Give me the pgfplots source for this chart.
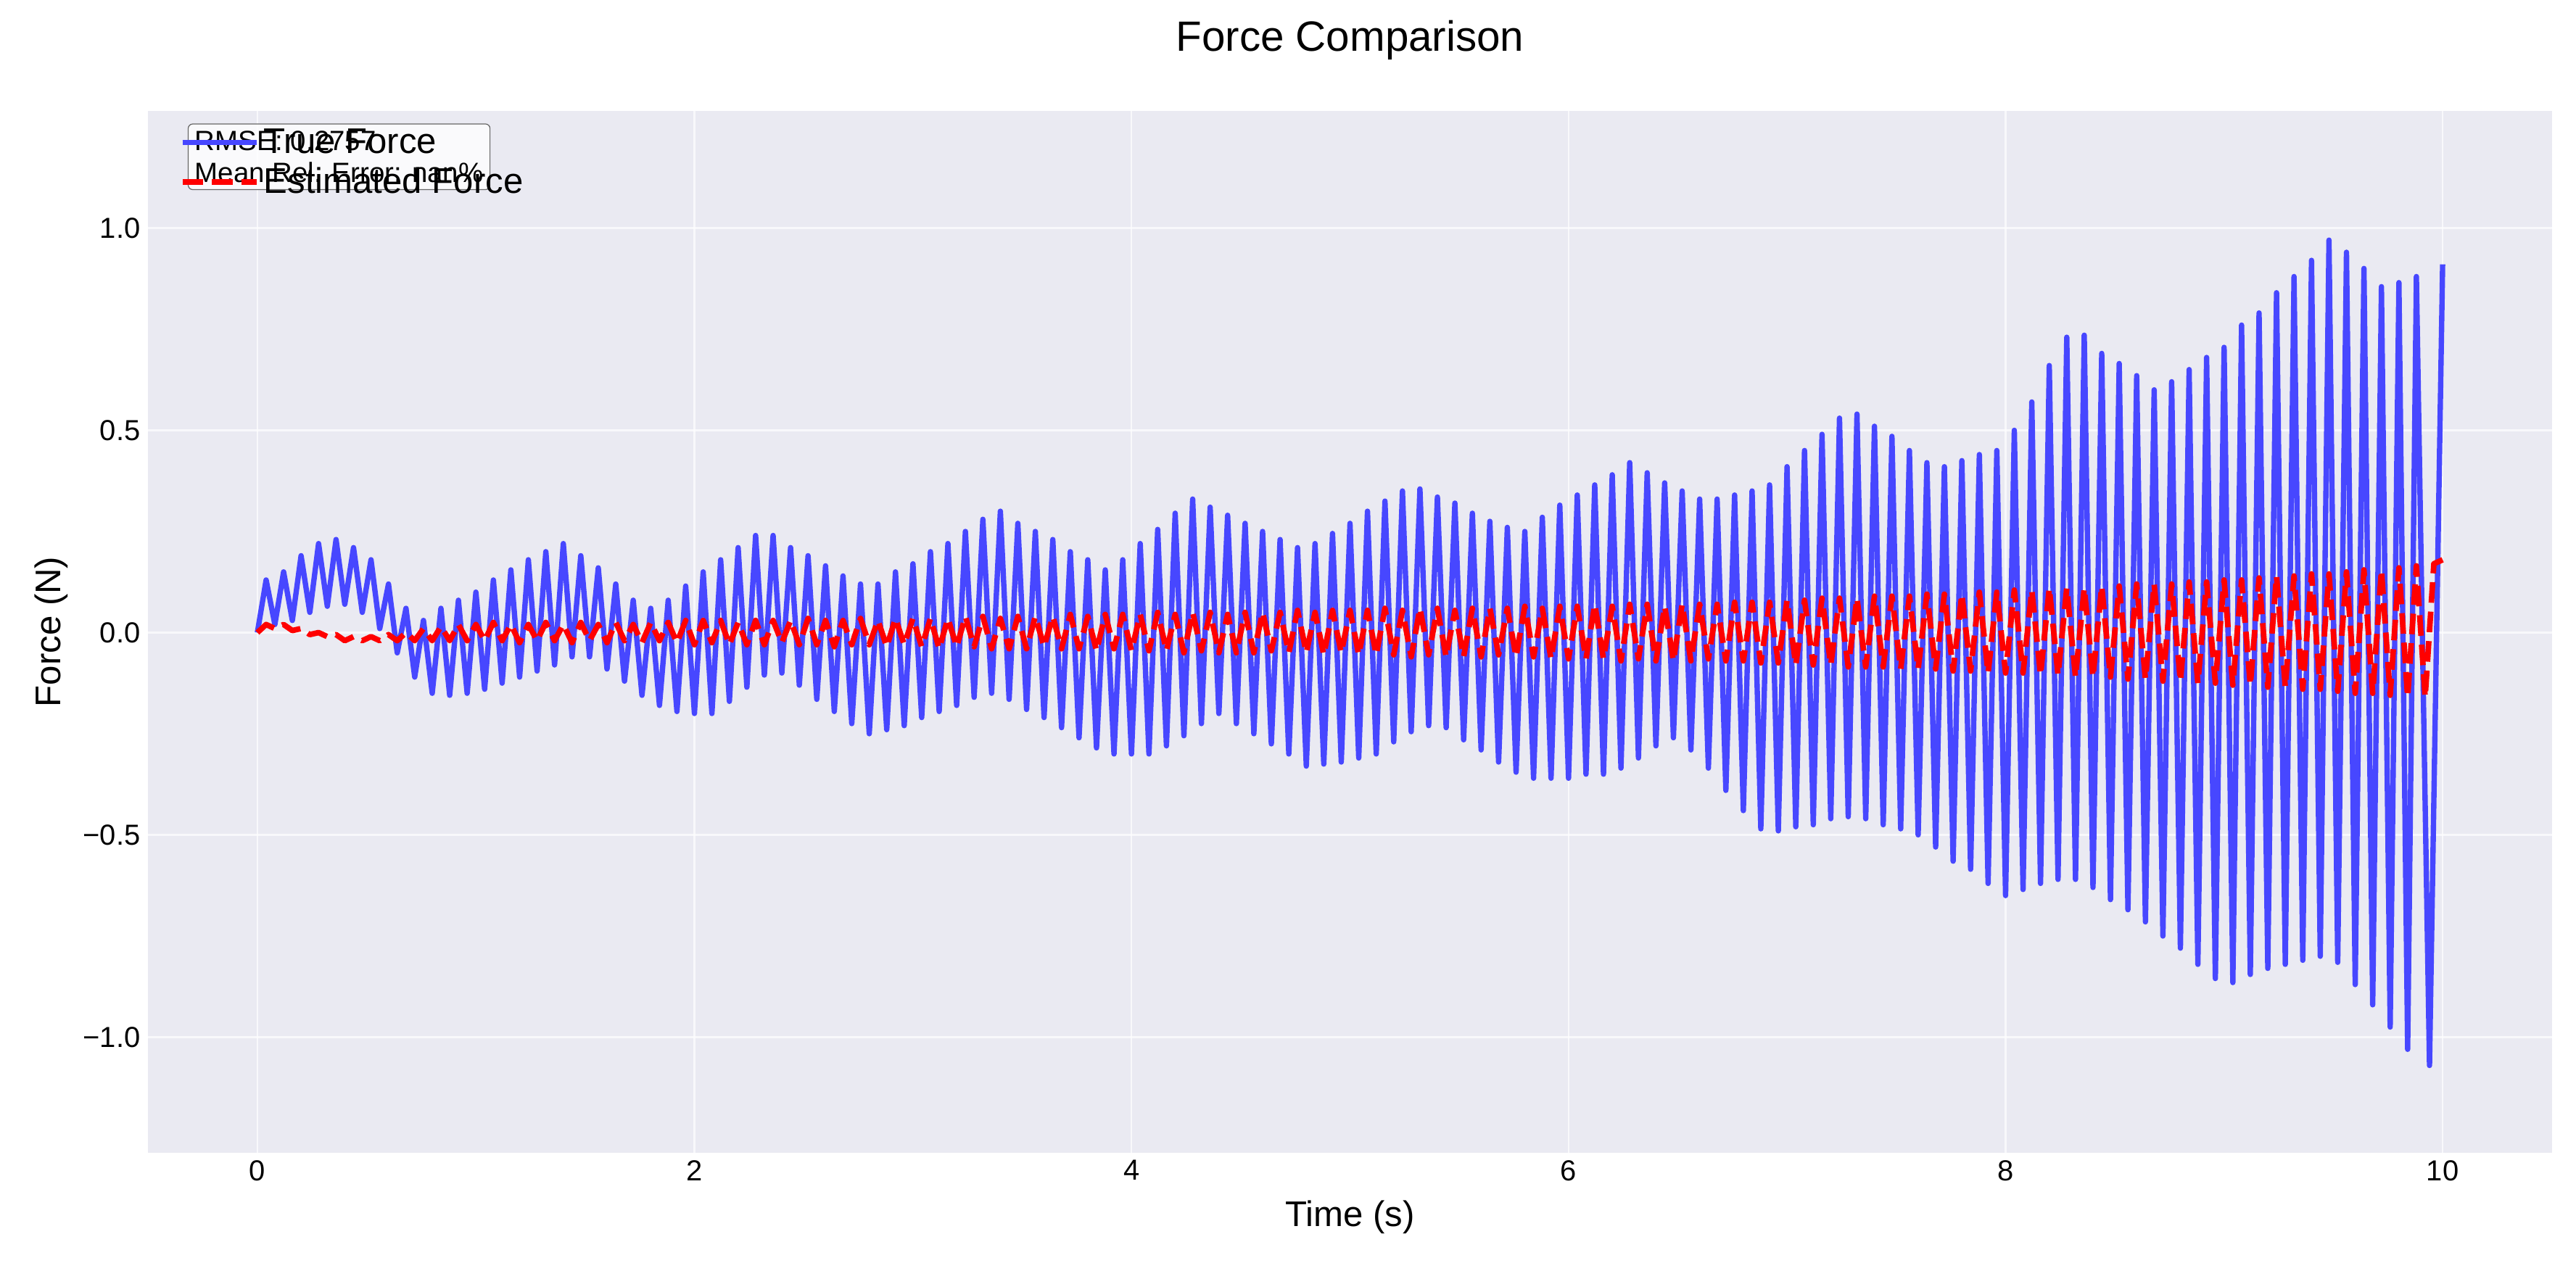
\documentclass[border=0pt]{standalone}
\usepackage{fontspec}
\setmainfont{Liberation Sans}
\usepackage{pgfplots}
\pgfplotsset{compat=1.18}
\definecolor{bgc}{HTML}{EAEAF2}
\definecolor{blu}{HTML}{4747FF}
\begin{document}
\begin{tikzpicture}
\begin{axis}[
  scale only axis, width=14.93in, height=6.47in,
  xmin=-0.5, xmax=10.5, ymin=-1.285, ymax=1.289,
  axis background/.style={fill=bgc},
  axis line style={draw=none},
  tick style={draw=none},
  grid=major, major grid style={white, line width=0.8pt, opacity=0.7},
  xtick={0,2,4,6,8,10},
  ytick={-1,-0.5,0,0.5,1},
  yticklabels={−1.0,−0.5,0.0,0.5,1.0},
  ticklabel style={font=\fontsize{13}{15}\selectfont},
  /pgf/number format/assume math mode=true,
  xlabel={Time (s)}, ylabel={Force (N)},
  label style={font=\fontsize{16}{19}\selectfont},
  xlabel style={yshift=-2pt},
  legend style={at={(rel axis cs:0.012,0.99)}, anchor=north west, draw=none, fill=none,
    font=\fontsize{16}{19}\selectfont, row sep=1pt, inner sep=1pt},
  legend image code/.code={\draw[#1] (0cm,0cm) -- (1.17cm,0cm);},
  legend cell align=left,
  clip=true,
]
\node[draw=black!60, fill=white, fill opacity=0.8, text opacity=1, rounded corners=2pt, anchor=north west, align=left,
  font=\fontsize{12.5}{14.6}\selectfont, inner sep=3pt] at (rel axis cs:0.0165,0.988) {RMSE: 0.2757\\Mean Rel. Error: nan\%};
\addplot[blu, line width=2.4pt, line join=round] coordinates {
(0,0)(0.04,0.13)(0.08,0.02)(0.12,0.15)(0.16,0.03)(0.20,0.19)(0.24,0.05)(0.28,0.22)(0.32,0.065)(0.36,0.23)(0.40,0.07)
(0.44,0.21)(0.48,0.05)(0.52,0.18)(0.56,0.01)(0.60,0.12)(0.64,-0.05)(0.68,0.06)(0.72,-0.11)(0.76,0.03)(0.80,-0.15)
(0.84,0.06)(0.88,-0.155)(0.92,0.08)(0.96,-0.15)(1.00,0.10)(1.04,-0.14)(1.08,0.13)(1.12,-0.125)(1.16,0.155)(1.20,-0.11)
(1.24,0.18)(1.28,-0.095)(1.32,0.20)(1.36,-0.08)(1.40,0.22)(1.44,-0.06)(1.48,0.19)(1.52,-0.06)(1.56,0.16)(1.60,-0.09)
(1.64,0.12)(1.68,-0.12)(1.72,0.08)(1.76,-0.155)(1.80,0.06)(1.84,-0.18)(1.88,0.08)(1.92,-0.195)(1.96,0.115)(2.00,-0.20)
(2.04,0.15)(2.08,-0.20)(2.12,0.18)(2.16,-0.17)(2.20,0.21)(2.24,-0.135)(2.28,0.24)(2.32,-0.105)(2.36,0.24)(2.40,-0.10)
(2.44,0.21)(2.48,-0.13)(2.52,0.19)(2.56,-0.165)(2.60,0.165)(2.64,-0.195)(2.68,0.14)(2.72,-0.225)(2.76,0.12)(2.80,-0.25)
(2.84,0.12)(2.88,-0.24)(2.92,0.15)(2.96,-0.23)(3.00,0.17)(3.04,-0.21)(3.08,0.20)(3.12,-0.195)(3.16,0.22)(3.20,-0.18)
(3.24,0.25)(3.28,-0.16)(3.32,0.28)(3.36,-0.15)(3.40,0.30)(3.44,-0.165)(3.48,0.27)(3.52,-0.19)(3.56,0.25)(3.60,-0.21)
(3.64,0.23)(3.68,-0.235)(3.72,0.20)(3.76,-0.26)(3.80,0.18)(3.84,-0.285)(3.88,0.155)(3.92,-0.30)(3.96,0.18)(4.00,-0.30)
(4.04,0.22)(4.08,-0.30)(4.12,0.255)(4.16,-0.28)(4.20,0.295)(4.24,-0.255)(4.28,0.33)(4.32,-0.225)(4.36,0.31)(4.40,-0.20)
(4.44,0.29)(4.48,-0.225)(4.52,0.27)(4.56,-0.25)(4.60,0.25)(4.64,-0.275)(4.68,0.23)(4.72,-0.30)(4.76,0.21)(4.80,-0.33)
(4.84,0.22)(4.88,-0.325)(4.92,0.245)(4.96,-0.32)(5.00,0.27)(5.04,-0.31)(5.08,0.30)(5.12,-0.30)(5.16,0.325)(5.20,-0.27)
(5.24,0.35)(5.28,-0.245)(5.32,0.355)(5.36,-0.23)(5.40,0.335)(5.44,-0.235)(5.48,0.32)(5.52,-0.265)(5.56,0.295)(5.60,-0.29)
(5.64,0.275)(5.68,-0.32)(5.72,0.26)(5.76,-0.345)(5.80,0.25)(5.84,-0.36)(5.88,0.285)(5.92,-0.36)(5.96,0.315)(6.00,-0.36)
(6.04,0.34)(6.08,-0.35)(6.12,0.365)(6.16,-0.35)(6.20,0.39)(6.24,-0.335)(6.28,0.42)(6.32,-0.31)(6.36,0.395)(6.40,-0.28)
(6.44,0.37)(6.48,-0.26)(6.52,0.35)(6.56,-0.29)(6.60,0.33)(6.64,-0.335)(6.68,0.33)(6.72,-0.39)(6.76,0.34)(6.80,-0.44)
(6.84,0.35)(6.88,-0.485)(6.92,0.365)(6.96,-0.49)(7.00,0.41)(7.04,-0.48)(7.08,0.45)(7.12,-0.475)(7.16,0.49)(7.20,-0.46)
(7.24,0.53)(7.28,-0.455)(7.32,0.54)(7.36,-0.46)(7.40,0.51)(7.44,-0.475)(7.48,0.485)(7.52,-0.485)(7.56,0.45)(7.60,-0.50)
(7.64,0.42)(7.68,-0.53)(7.72,0.41)(7.76,-0.565)(7.80,0.425)(7.84,-0.585)(7.88,0.44)(7.92,-0.62)(7.96,0.45)(8.00,-0.65)
(8.04,0.50)(8.08,-0.635)(8.12,0.57)(8.16,-0.62)(8.20,0.66)(8.24,-0.61)(8.28,0.73)(8.32,-0.61)(8.36,0.735)(8.40,-0.63)
(8.44,0.69)(8.48,-0.66)(8.52,0.665)(8.56,-0.685)(8.60,0.635)(8.64,-0.715)(8.68,0.60)(8.72,-0.75)(8.76,0.62)(8.80,-0.78)
(8.84,0.65)(8.88,-0.82)(8.92,0.68)(8.96,-0.855)(9.00,0.705)(9.04,-0.865)(9.08,0.76)(9.12,-0.845)(9.16,0.79)(9.20,-0.83)
(9.24,0.84)(9.28,-0.82)(9.32,0.88)(9.36,-0.81)(9.40,0.92)(9.44,-0.80)(9.48,0.97)(9.52,-0.815)(9.56,0.94)(9.60,-0.87)
(9.64,0.90)(9.68,-0.92)(9.72,0.855)(9.76,-0.975)(9.80,0.865)(9.84,-1.03)(9.88,0.88)(9.94,-1.07)(10.0,0.91)
};
\addlegendentry{True Force}
\addplot[red, line width=2.5pt, dash pattern=on 9.25pt off 4pt, line join=round] coordinates {
(0,0)(0.04,0.02)(0.08,0.01)(0.12,0.02)(0.16,0.005)(0.20,0.01)(0.24,-0.005)(0.28,0.0)(0.32,-0.01)(0.36,-0.005)(0.40,-0.02)
(0.44,-0.01)(0.48,-0.02)(0.52,-0.01)(0.56,-0.02)(0.60,-0.005)(0.64,-0.02)(0.68,0.0)(0.72,-0.02)(0.76,0.01)(0.80,-0.02)
(0.84,0.015)(0.88,-0.02)(0.92,0.02)(0.96,-0.02)
(1.00,0.02)(1.04,-0.02)(1.08,0.025)(1.12,-0.02)(1.16,0.02)(1.20,-0.025)(1.24,0.02)(1.28,-0.02)(1.32,0.025)(1.36,-0.02)(1.40,0.02)(1.44,-0.025)(1.48,0.025)(1.52,-0.02)(1.56,0.02)(1.60,-0.025)(1.64,0.025)(1.68,-0.02)(1.72,0.02)(1.76,-0.025)(1.80,0.025)(1.84,-0.02)(1.88,0.025)(1.92,-0.025)(1.96,0.03)
(2.00,-0.03)(2.04,0.03)(2.08,-0.025)(2.12,0.03)(2.16,-0.03)(2.20,0.025)(2.24,-0.03)(2.28,0.03)(2.32,-0.03)(2.36,0.03)(2.40,-0.025)(2.44,0.03)(2.48,-0.03)(2.52,0.035)(2.56,-0.03)(2.60,0.03)(2.64,-0.035)(2.68,0.03)(2.72,-0.03)(2.76,0.035)(2.80,-0.03)(2.84,0.03)(2.88,-0.035)(2.92,0.035)(2.96,-0.03)
(3.00,0.035)(3.04,-0.035)(3.08,0.035)(3.12,-0.04)(3.16,0.035)(3.20,-0.035)(3.24,0.04)(3.28,-0.035)(3.32,0.04)(3.36,-0.04)(3.40,0.035)(3.44,-0.04)(3.48,0.04)(3.52,-0.04)(3.56,0.04)(3.60,-0.035)(3.64,0.04)(3.68,-0.04)(3.72,0.045)(3.76,-0.04)(3.80,0.04)(3.84,-0.045)(3.88,0.045)(3.92,-0.04)(3.96,0.045)
(4.00,-0.045)(4.04,0.045)(4.08,-0.045)(4.12,0.05)(4.16,-0.045)(4.20,0.045)(4.24,-0.05)(4.28,0.05)(4.32,-0.045)(4.36,0.05)(4.40,-0.05)(4.44,0.045)(4.48,-0.05)(4.52,0.05)(4.56,-0.05)(4.60,0.05)(4.64,-0.045)(4.68,0.05)(4.72,-0.05)(4.76,0.055)(4.80,-0.05)(4.84,0.05)(4.88,-0.055)(4.92,0.055)(4.96,-0.05)
(5.00,0.055)(5.04,-0.055)(5.08,0.055)(5.12,-0.055)(5.16,0.06)(5.20,-0.055)(5.24,0.055)(5.28,-0.06)(5.32,0.06)(5.36,-0.055)(5.40,0.06)(5.44,-0.06)(5.48,0.055)(5.52,-0.06)(5.56,0.06)(5.60,-0.06)(5.64,0.06)(5.68,-0.055)(5.72,0.06)(5.76,-0.06)(5.80,0.065)(5.84,-0.06)(5.88,0.06)(5.92,-0.065)(5.96,0.065)
(6.00,-0.065)(6.04,0.065)(6.08,-0.065)(6.12,0.07)(6.16,-0.065)(6.20,0.065)(6.24,-0.07)(6.28,0.07)(6.32,-0.065)(6.36,0.07)(6.40,-0.07)(6.44,0.065)(6.48,-0.07)(6.52,0.07)(6.56,-0.07)(6.60,0.07)(6.64,-0.065)(6.68,0.07)(6.72,-0.07)(6.76,0.075)(6.80,-0.07)(6.84,0.075)(6.88,-0.075)(6.92,0.075)(6.96,-0.075)
(7.00,0.08)(7.04,-0.08)(7.08,0.08)(7.12,-0.08)(7.16,0.085)(7.20,-0.08)(7.24,0.085)(7.28,-0.085)(7.32,0.085)(7.36,-0.085)(7.40,0.09)(7.44,-0.085)(7.48,0.09)(7.52,-0.09)(7.56,0.09)(7.60,-0.09)(7.64,0.095)(7.68,-0.09)(7.72,0.095)(7.76,-0.095)(7.80,0.095)(7.84,-0.095)(7.88,0.1)(7.92,-0.1)(7.96,0.1)
(8.00,-0.1)(8.04,0.105)(8.08,-0.1)(8.12,0.105)(8.16,-0.105)(8.20,0.11)(8.24,-0.105)(8.28,0.11)(8.32,-0.11)(8.36,0.11)(8.40,-0.11)(8.44,0.115)(8.48,-0.11)(8.52,0.115)(8.56,-0.115)(8.60,0.12)(8.64,-0.115)(8.68,0.12)(8.72,-0.12)(8.76,0.12)(8.80,-0.12)(8.84,0.125)(8.88,-0.125)(8.92,0.125)(8.96,-0.125)
(9.00,0.13)(9.04,-0.13)(9.08,0.13)(9.12,-0.13)(9.16,0.135)(9.20,-0.135)(9.24,0.14)(9.28,-0.135)(9.32,0.14)(9.36,-0.14)(9.40,0.145)(9.44,-0.14)(9.48,0.145)(9.52,-0.145)(9.56,0.15)(9.60,-0.15)(9.64,0.155)(9.68,-0.15)(9.72,0.155)(9.76,-0.155)(9.80,0.16)(9.84,-0.16)(9.88,0.165)(9.92,-0.16)(9.96,0.17)(10.0,0.18)
};
\addlegendentry{Estimated Force}
\end{axis}
\node[font=\fontsize{19}{22}\selectfont] at ([yshift=0.44in]current axis.north) {Force Comparison};
\pgfresetboundingbox
\path ([xshift=-0.92in,yshift=-0.735in]current axis.south west) rectangle ([xshift=0.15in,yshift=0.69in]current axis.north east);
\end{tikzpicture}
\end{document}
